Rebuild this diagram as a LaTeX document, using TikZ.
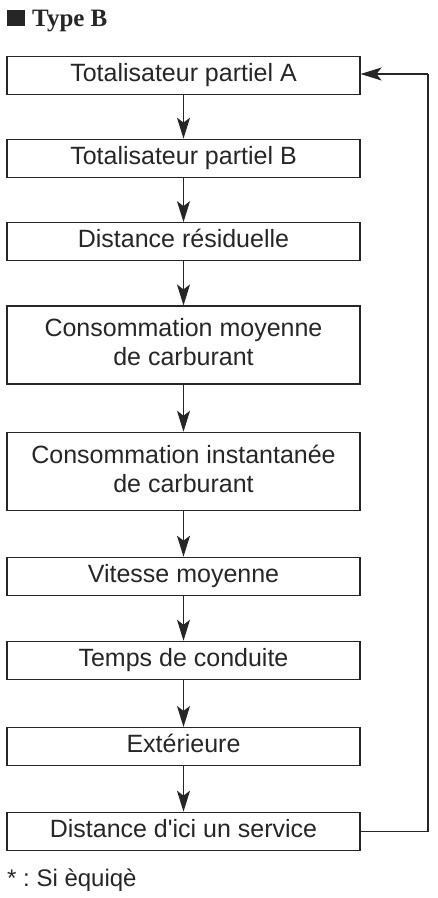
\documentclass[tikz,border=0pt]{standalone}
\usepackage{fontspec}
\setmainfont{Liberation Sans}
\newfontfamily\titlefont{Liberation Serif}
\usetikzlibrary{arrows.meta}
\definecolor{ink}{HTML}{262626}
\frenchspacing
\newcommand{\straightquote}{\XeTeXglyph\the\XeTeXglyphindex "quotesingle"\relax}
\tikzset{
  box/.style={draw=ink, line width=1.1pt, rectangle, inner sep=0pt,
    minimum width=353pt, text=ink, font=\fontsize{25}{29}\selectfont,
    align=center, text height=17.4pt, text depth=5pt, minimum height=38pt},
  box2/.style={box, text height=46.4pt, minimum height=78pt},
  flow/.style={draw=ink, line width=1.1pt,
    -{Stealth[length=21pt,width=13pt,inset=5pt]}},
  link/.style={draw=ink, line width=1.1pt}
}
\begin{document}
\begin{tikzpicture}[x=1pt,y=-1pt]
\useasboundingbox (0,0) rectangle (437,898);
\fill[ink] (7,10) rectangle (25,26);
\node[anchor=base west, inner sep=0pt, text=ink, font=\titlefont\bfseries\fontsize{25}{29}\selectfont] (title) at (32,26) {Type B};
\node[box]  (b1) at (183.5,75.5)  {Totalisateur partiel A};
\node[box]  (b2) at (183.5,158.2) {Totalisateur partiel B};
\node[box]  (b3) at (183.5,241.7) {Distance résiduelle};
\node[box2] (b4) at (183.5,345)   {Consommation moyenne\\de carburant};
\node[box2] (b5) at (183.5,471.3) {Consommation instantanée\\de carburant};
\node[box]  (b6) at (183.5,576.2) {Vitesse moyenne};
\node[box]  (b7) at (183.5,660.3) {Temps de conduite};
\node[box]  (b8) at (183.5,746.5) {Extérieure};
\node[box]  (b9) at (183.5,831.2) {Distance d\straightquote ici un service};
\draw[flow] (b1) -- (b2);
\draw[flow] (b2) -- (b3);
\draw[flow] (b3) -- (b4);
\draw[flow] (b4) -- (b5);
\draw[flow] (b5) -- (b6);
\draw[flow] (b6) -- (b7);
\draw[flow] (b7) -- (b8);
\draw[flow] (b8) -- (b9);
\coordinate (c1) at (428,831.2);
\coordinate (c2) at (428,74);
\draw[link] (b9.east) -- (c1) -- (c2);
\draw[flow] (c2) -- (b1.east |- c2);
\node[anchor=base west, inner sep=0pt, text=ink, font=\fontsize{24}{28}\selectfont] (note) at (7,886.7) {\frenchspacing * : Si èquiqè};
\end{tikzpicture}
\end{document}
